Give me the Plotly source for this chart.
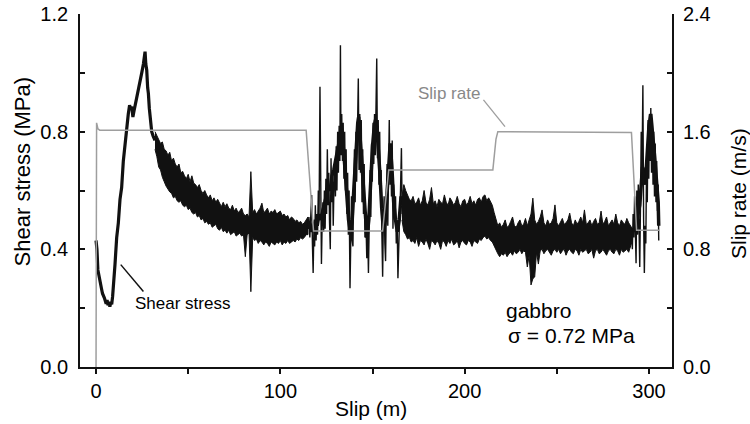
import plotly.graph_objects as go

# ---------------- data ----------------
# initial loading / peak (slip in m, shear stress in MPa)
rise_slip = [0, 0.5, 1.0, 1.5, 2.0, 2.5, 3.0, 3.5, 4.0, 4.5, 5.0, 5.5, 6.0, 6.5, 7.0, 7.5, 8.0, 8.5,
             9.0, 9.4, 10.3, 11.2, 12.1, 13.0, 13.9, 14.8, 15.7, 16.6, 17.5, 18.2, 18.8, 19.4, 20.0,
             20.6, 21.3, 22.0, 23.0, 23.9, 24.8, 25.7, 26.2, 26.6, 27.0, 27.5, 28.0, 28.4, 28.9,
             29.3, 30.2, 31.0, 32.0]
rise_stress = [0.43, 0.40, 0.33, 0.31, 0.29, 0.28, 0.265, 0.25, 0.245, 0.235, 0.225, 0.215, 0.228,
               0.21, 0.222, 0.205, 0.22, 0.213, 0.24, 0.27, 0.35, 0.44, 0.49, 0.57, 0.61, 0.70, 0.76,
               0.82, 0.86, 0.89, 0.875, 0.885, 0.85, 0.87, 0.89, 0.91, 0.94, 0.975, 1.0, 1.03, 1.05,
               1.072, 1.03, 1.01, 0.95, 0.93, 0.88, 0.85, 0.80, 0.785, 0.77]

# first steady band: upper / lower envelope of the noisy record
bandA_slip = [32, 33, 34, 35, 36, 37, 38, 39, 40, 41, 42, 43, 44, 45, 46, 47, 48, 49, 50, 51, 52,
              53, 54, 55, 56, 57, 58, 59, 60, 61, 62, 63, 64, 65, 66, 67, 68, 69, 70, 71, 72, 73,
              74, 75, 76, 77, 78, 79, 80, 81, 82, 83, 84, 85, 86, 87, 88, 89, 90, 91, 92, 93, 94,
              95, 96, 97, 98, 99, 100, 101, 102, 103, 104, 105, 106, 107, 108, 109, 110, 111, 112,
              113, 114, 115]
bandA_hi = [0.80, 0.785, 0.775, 0.76, 0.765, 0.74, 0.735, 0.72, 0.73, 0.70, 0.71, 0.69, 0.68,
            0.69, 0.66, 0.665, 0.65, 0.64, 0.655, 0.63, 0.65, 0.625, 0.62, 0.61, 0.62, 0.60, 0.59,
            0.60, 0.585, 0.575, 0.585, 0.565, 0.575, 0.56, 0.57, 0.555, 0.545, 0.56, 0.545, 0.555,
            0.54, 0.535, 0.55, 0.53, 0.54, 0.525, 0.53, 0.54, 0.52, 0.515, 0.52, 0.51, 0.664,
            0.525, 0.535, 0.52, 0.53, 0.54, 0.557, 0.525, 0.53, 0.54, 0.52, 0.53, 0.525, 0.535,
            0.52, 0.525, 0.53, 0.515, 0.52, 0.51, 0.515, 0.50, 0.51, 0.505, 0.495, 0.50, 0.49,
            0.495, 0.485, 0.49, 0.50, 0.51]
bandA_lo = [0.74, 0.715, 0.68, 0.67, 0.645, 0.63, 0.615, 0.605, 0.595, 0.59, 0.575, 0.58, 0.565,
            0.56, 0.565, 0.55, 0.545, 0.55, 0.535, 0.54, 0.525, 0.52, 0.525, 0.51, 0.515, 0.50,
            0.505, 0.49, 0.495, 0.485, 0.49, 0.475, 0.48, 0.485, 0.47, 0.465, 0.475, 0.46, 0.465,
            0.455, 0.465, 0.45, 0.455, 0.46, 0.445, 0.45, 0.455, 0.445, 0.45, 0.375, 0.45, 0.455,
            0.256, 0.44, 0.43, 0.435, 0.42, 0.43, 0.425, 0.415, 0.425, 0.42, 0.41, 0.425, 0.42,
            0.415, 0.425, 0.42, 0.43, 0.415, 0.425, 0.42, 0.43, 0.42, 0.425, 0.43, 0.425, 0.435,
            0.43, 0.44, 0.435, 0.44, 0.45, 0.45]

# unstable section: slow oscillation (thick) and the spiky record on top of it
wave_slip = [115.0, 116.0, 117.0, 118.0, 119.0, 120.0, 121.0, 122.0, 123.0, 124.0, 125.0, 126.0,
             127.0, 128.0, 129.0, 130.0, 131.0, 132.0, 133.0, 133.5, 134.0, 135.0, 136.0, 137.0,
             138.0, 139.0, 140.0, 141.0, 142.0, 142.5, 143.0, 144.0, 145.0, 146.0, 147.0, 148.0,
             149.0, 150.0, 151.0, 151.6, 152.5, 153.0, 154.0, 155.0, 156.0, 157.0, 158.0, 159.0,
             159.6, 160.5, 161.5, 162.5, 163.5, 164.5, 165.5, 166.5]
wave_stress = [0.47, 0.49, 0.46, 0.47, 0.50, 0.48, 0.52, 0.50, 0.53, 0.56, 0.58, 0.61, 0.60, 0.65,
               0.67, 0.70, 0.74, 0.77, 0.80, 0.78, 0.76, 0.68, 0.58, 0.50, 0.46, 0.50, 0.62, 0.74,
               0.83, 0.85, 0.80, 0.72, 0.60, 0.50, 0.44, 0.50, 0.64, 0.75, 0.82, 0.84, 0.80, 0.76,
               0.66, 0.54, 0.46, 0.50, 0.62, 0.74, 0.76, 0.68, 0.56, 0.50, 0.46, 0.50, 0.58, 0.55]

chaos_slip = [115.0, 115.5, 116.0, 116.5, 117.0, 117.4, 117.8, 118.2, 118.6, 119.0, 119.4, 119.8,
              120.2, 120.6, 121.0, 121.5, 121.9, 122.3, 122.7, 123.1, 123.5, 123.9, 124.3, 124.7,
              125.1, 125.5, 125.9, 126.3, 126.7, 127.1, 127.5, 127.9, 128.3, 128.7, 129.1, 129.5,
              129.9, 130.3, 130.7, 131.1, 131.5, 131.9, 132.3, 132.6, 132.9, 133.3, 133.7, 134.1,
              134.5, 134.9, 135.3, 135.7, 136.1, 136.5, 136.9, 137.3, 137.8, 138.2, 138.6, 139.0,
              139.4, 139.8, 140.2, 140.6, 141.0, 141.4, 141.8, 142.3, 142.7, 143.1, 143.5, 143.9,
              144.3, 144.7, 145.1, 145.5, 145.9, 146.4, 146.9, 147.4, 147.8, 148.2, 148.7, 149.1,
              149.5, 149.9, 150.3, 150.7, 151.1, 151.5, 151.9, 152.3, 152.7, 153.1, 153.5, 153.9,
              154.3, 154.7, 155.1, 155.5, 155.9, 156.3, 156.7, 157.1, 157.5, 157.9, 158.3, 158.7,
              159.1, 159.5, 159.9, 160.3, 160.7, 161.1, 161.5, 162.0, 162.5, 162.9, 163.4, 163.8,
              164.2, 164.7, 165.2, 165.7, 166.1, 166.5]
chaos_stress = [0.47, 0.51, 0.44, 0.50, 0.585, 0.42, 0.32, 0.47, 0.41, 0.55, 0.43, 0.52, 0.45,
                0.60, 0.50, 0.953, 0.40, 0.35, 0.50, 0.56, 0.46, 0.60, 0.47, 0.64, 0.52, 0.74, 0.55,
                0.66, 0.49, 0.40, 0.71, 0.56, 0.66, 0.48, 0.62, 0.69, 0.58, 0.75, 0.60, 0.80, 0.66,
                0.82, 0.70, 1.094, 0.72, 0.86, 0.70, 0.83, 0.64, 0.80, 0.60, 0.74, 0.52, 0.66, 0.45,
                0.60, 0.268, 0.55, 0.58, 0.43, 0.41, 0.62, 0.74, 0.56, 0.80, 0.63, 0.885, 0.981,
                0.67, 0.86, 0.66, 0.84, 0.56, 0.74, 0.52, 0.69, 0.44, 0.51, 0.37, 0.45, 0.32, 0.58,
                0.67, 0.51, 0.76, 0.63, 0.83, 0.69, 0.86, 0.72, 0.85, 1.049, 0.71, 0.84, 0.62, 0.80,
                0.60, 0.67, 0.45, 0.307, 0.50, 0.58, 0.42, 0.36, 0.55, 0.69, 0.48, 0.74, 0.84, 0.62,
                0.75, 0.58, 0.77, 0.47, 0.62, 0.50, 0.58, 0.42, 0.48, 0.302, 0.46, 0.51, 0.60,
                0.744, 0.52, 0.58]

# second steady band
bandB_slip = [166, 167, 168, 169, 170, 171, 172, 173, 174, 175, 176, 177, 178, 179, 180, 181, 182,
              183, 184, 185, 186, 187, 188, 189, 190, 191, 192, 193, 194, 195, 196, 197, 198, 199,
              200, 201, 202, 203, 204, 205, 206, 207, 208, 209, 210, 211, 212, 213, 214, 215, 216,
              217, 218, 219, 220, 221, 222, 223, 224, 225, 226, 227, 228, 229, 230, 231, 232, 233,
              234, 235, 236, 237, 238, 239, 240, 241, 242, 243, 244, 245, 246, 247, 248, 249, 250,
              251, 252, 253, 254, 255, 256, 257, 258, 259, 260, 261, 262, 263, 264, 265, 266, 267,
              268, 269, 270, 271, 272, 273, 274, 275, 276, 277, 278, 279, 280, 281, 282, 283, 284,
              285, 286, 287, 288, 289, 290, 291]
bandB_hi = [0.58, 0.62, 0.60, 0.585, 0.57, 0.565, 0.58, 0.555, 0.56, 0.575, 0.55, 0.565, 0.60,
            0.56, 0.55, 0.57, 0.61, 0.555, 0.565, 0.545, 0.57, 0.56, 0.555, 0.585, 0.56, 0.55,
            0.575, 0.565, 0.55, 0.56, 0.58, 0.555, 0.545, 0.565, 0.57, 0.55, 0.56, 0.58, 0.555,
            0.565, 0.55, 0.57, 0.575, 0.56, 0.58, 0.585, 0.565, 0.575, 0.56, 0.55, 0.525, 0.50,
            0.48, 0.49, 0.475, 0.485, 0.50, 0.475, 0.48, 0.495, 0.51, 0.48, 0.475, 0.49, 0.50,
            0.48, 0.485, 0.505, 0.48, 0.50, 0.52, 0.574, 0.50, 0.485, 0.495, 0.51, 0.534, 0.49,
            0.48, 0.50, 0.485, 0.49, 0.505, 0.551, 0.49, 0.48, 0.495, 0.505, 0.485, 0.49, 0.50,
            0.523, 0.49, 0.48, 0.50, 0.485, 0.495, 0.51, 0.49, 0.534, 0.485, 0.49, 0.50, 0.48,
            0.495, 0.505, 0.485, 0.49, 0.53, 0.485, 0.495, 0.51, 0.48, 0.49, 0.50, 0.485, 0.52,
            0.49, 0.48, 0.50, 0.49, 0.485, 0.505, 0.49, 0.48, 0.47]
bandB_lo = [0.50, 0.46, 0.45, 0.435, 0.44, 0.425, 0.43, 0.42, 0.44, 0.41, 0.43, 0.425, 0.415,
            0.435, 0.42, 0.40, 0.43, 0.425, 0.415, 0.43, 0.42, 0.40, 0.43, 0.425, 0.41, 0.43,
            0.42, 0.435, 0.415, 0.42, 0.43, 0.405, 0.425, 0.43, 0.42, 0.415, 0.43, 0.425, 0.41,
            0.43, 0.425, 0.42, 0.435, 0.43, 0.44, 0.445, 0.435, 0.44, 0.43, 0.425, 0.41, 0.40,
            0.385, 0.375, 0.385, 0.38, 0.39, 0.375, 0.385, 0.39, 0.38, 0.395, 0.385, 0.39, 0.40,
            0.385, 0.395, 0.39, 0.34, 0.38, 0.279, 0.30, 0.306, 0.39, 0.35, 0.395, 0.40, 0.385,
            0.395, 0.40, 0.39, 0.38, 0.395, 0.40, 0.39, 0.40, 0.385, 0.395, 0.40, 0.38, 0.395,
            0.40, 0.39, 0.385, 0.40, 0.395, 0.38, 0.40, 0.39, 0.395, 0.40, 0.385, 0.39, 0.40,
            0.37, 0.395, 0.40, 0.385, 0.39, 0.40, 0.39, 0.38, 0.395, 0.40, 0.39, 0.385, 0.40,
            0.395, 0.38, 0.40, 0.39, 0.395, 0.40, 0.39, 0.41, 0.43]

# final oscillating section
end_wave_slip = [290.6, 292.0, 293.5, 295.0, 296.5, 298.0, 299.0, 300.0, 301.0, 302.0, 303.0,
                 304.0, 305.0, 305.3]
end_wave_stress = [0.46, 0.47, 0.50, 0.55, 0.68, 0.62, 0.72, 0.82, 0.86, 0.80, 0.72, 0.64, 0.56,
                   0.48]
end_slip = [290.6, 291.0, 291.4, 291.8, 292.2, 292.6, 293.0, 293.4, 293.8, 294.2, 294.6, 295.0,
            295.4, 295.8, 296.2, 296.7, 297.1, 297.5, 297.9, 298.3, 298.7, 299.1, 299.5, 299.9,
            300.3, 300.7, 301.0, 301.4, 301.8, 302.2, 302.6, 303.0, 303.4, 303.8, 304.2, 304.6,
            305.0, 305.3]
end_stress = [0.46, 0.40, 0.52, 0.44, 0.58, 0.38, 0.353, 0.60, 0.45, 0.62, 0.40, 0.34, 0.55, 0.80,
              0.66, 0.958, 0.50, 0.32, 0.48, 0.42, 0.70, 0.56, 0.84, 0.64, 0.86, 0.70, 0.88, 0.66,
              0.84, 0.62, 0.80, 0.58, 0.76, 0.56, 0.70, 0.53, 0.62, 0.43]

# slip rate (m/s)
rate_slip = [0, 0.3, 1.0, 2.0, 114.0, 118.0, 155.5, 157.5, 158.8, 215.3, 217.0, 218.0, 290.5,
             293.3, 305.5]
rate_ms = [0, 1.66, 1.62, 1.61, 1.61, 0.925, 0.925, 1.2, 1.34, 1.34, 1.55, 1.60, 1.595, 0.93, 0.93]

x_ticks = [0, 50, 100, 150, 200, 250, 300]
x_ticktext = ["0", "", "100", "", "200", "", "300"]
y1_ticks = [0, 0.2, 0.4, 0.6, 0.8, 1.0, 1.2]
y1_ticktext = ["0.0", "", "0.4", "", "0.8", "", "1.2"]
y2_ticks = [0, 0.4, 0.8, 1.2, 1.6, 2.0, 2.4]
y2_ticktext = ["0.0", "", "0.8", "", "1.6", "", "2.4"]

# ---------------- figure ----------------
FONT = "Liberation Sans, Arial, Helvetica, sans-serif"
BLACK = "#111111"
GRAY = "#9e9e9e"

fig = go.Figure()


def line_trace(xs, ys, width):
    return go.Scatter(x=xs, y=ys, mode="lines", line=dict(color=BLACK, width=width),
                      hoverinfo="skip", showlegend=False)


def band_trace(xs, hi, lo):
    return go.Scatter(x=xs + xs[::-1], y=hi + lo[::-1], mode="lines", fill="toself",
                      fillcolor=BLACK, line=dict(color=BLACK, width=1),
                      hoverinfo="skip", showlegend=False)


fig.add_trace(line_trace(rise_slip, rise_stress, 3.2))
fig.add_trace(band_trace(bandA_slip, bandA_hi, bandA_lo))
fig.add_trace(line_trace(wave_slip, wave_stress, 3.5))
fig.add_trace(line_trace(chaos_slip, chaos_stress, 1.4))
fig.add_trace(band_trace(bandB_slip, bandB_hi, bandB_lo))
fig.add_trace(line_trace(end_wave_slip, end_wave_stress, 3.5))
fig.add_trace(line_trace(end_slip, end_stress, 1.4))
fig.add_trace(go.Scatter(x=rate_slip, y=rate_ms, mode="lines", yaxis="y2",
                         line=dict(color=GRAY, width=1.5), hoverinfo="skip", showlegend=False))

axis_common = dict(showline=True, linecolor=BLACK, linewidth=1.8, showgrid=False, zeroline=False,
                   tickcolor=BLACK, tickwidth=1.8, ticklen=5, automargin=False,
                   tickfont=dict(family=FONT, size=20, color="#000000"))

fig.update_layout(
    width=750, height=424,
    margin=dict(l=80, r=78, t=14, b=57, autoexpand=False),
    paper_bgcolor="white", plot_bgcolor="white",
    showlegend=False,
    xaxis=dict(range=[-8.7, 312.5], tickmode="array", tickvals=x_ticks, ticktext=x_ticktext,
               ticks="outside", **axis_common),
    yaxis=dict(range=[0, 1.2], tickmode="array", tickvals=y1_ticks, ticktext=y1_ticktext,
               ticks="inside", ticklabelstandoff=6, **axis_common),
    yaxis2=dict(range=[0, 2.4], tickmode="array", tickvals=y2_ticks, ticktext=y2_ticktext,
                ticks="inside", ticklabelstandoff=5, overlaying="y", side="right", **axis_common),
    shapes=[
        dict(type="line", xref="x", yref="y", x0=13.4, y0=0.348, x1=25.7, y1=0.257,
             line=dict(color=BLACK, width=1.5)),
        dict(type="line", xref="x", yref="y", x0=210.2, y0=0.908, x1=221.9, y1=0.817,
             line=dict(color=GRAY, width=1.3)),
    ],
    annotations=[
        dict(text="Shear stress", x=46.9, y=0.2175, xref="x", yref="y", showarrow=False,
             font=dict(family=FONT, size=17, color="#000000"), xanchor="center", yanchor="middle"),
        dict(text="Slip rate", x=191.4, y=0.930, xref="x", yref="y", showarrow=False,
             font=dict(family=FONT, size=17, color="#888888"), xanchor="center", yanchor="middle"),
        dict(text="gabbro", x=221.5, y=0.192, xref="x", yref="y", showarrow=False,
             font=dict(family=FONT, size=21, color="#000000"), xanchor="left", yanchor="middle"),
        dict(text="σ = 0.72 MPa", x=222.5, y=0.107, xref="x", yref="y", showarrow=False,
             font=dict(family=FONT, size=21, color="#000000"), xanchor="left", yanchor="middle"),
        dict(text="Shear stress (MPa)", x=0, y=0.554, xref="paper", yref="paper", xshift=-58,
             textangle=-90, showarrow=False, xanchor="center", yanchor="middle",
             font=dict(family=FONT, size=22, color="#000000")),
        dict(text="Slip rate (m/s)", x=1, y=0.49, xref="paper", yref="paper", xshift=66,
             textangle=-90, showarrow=False, xanchor="center", yanchor="middle",
             font=dict(family=FONT, size=21, color="#000000")),
        dict(text="Slip (m)", x=0.4916, y=0, xref="paper", yref="paper", yshift=-41,
             showarrow=False, xanchor="center", yanchor="middle",
             font=dict(family=FONT, size=21, color="#000000")),
    ],
)

fig.write_html("out.html", config={"displayModeBar": False},
               post_script="document.body.style.margin='0';document.body.style.overflow='hidden';")
